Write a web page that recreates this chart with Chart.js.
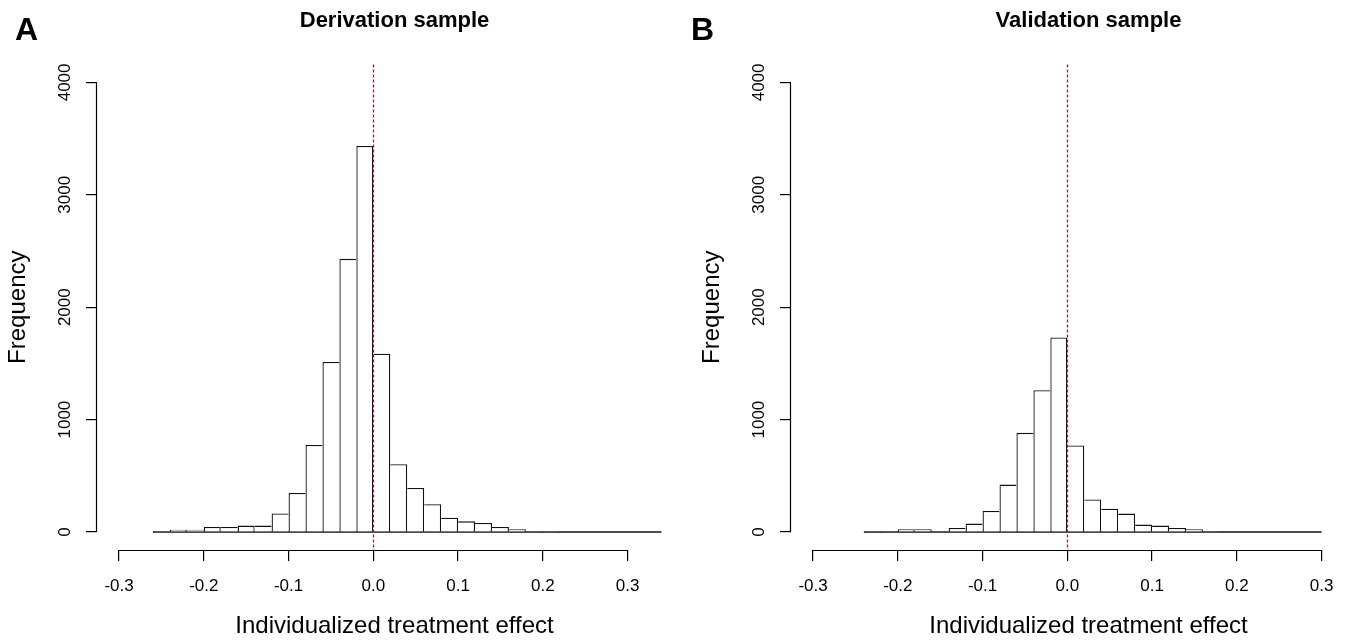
<!DOCTYPE html>
<html>
<head>
<meta charset="utf-8">
<script src="https://cdn.jsdelivr.net/npm/chart.js@4.4.1/dist/chart.umd.min.js"></script>
<style>
  html, body { margin: 0; padding: 0; background: #fff; }
  body { width: 1345px; height: 640px; overflow: hidden; position: relative; }
  canvas { position: absolute; top: 0; }
  #histA { left: 0; }
  #histB { left: 694px; }
  .panel-tag { position: absolute; top: 13px; font: bold 32px/32px "Liberation Sans", Arial, sans-serif; color: #000; }
</style>
</head>
<body>
<canvas id="histA" width="786" height="640"></canvas>
<canvas id="histB" width="786" height="640"></canvas>
<div class="panel-tag" style="left:15px">A</div>
<div class="panel-tag" style="left:691px">B</div>
<script>
// histogram bins (lower edges), width 0.02
const binWidth = 0.02;
const derivationBins = [-0.26, -0.24, -0.22, -0.20, -0.18, -0.16, -0.14, -0.12, -0.10, -0.08,
  -0.06, -0.04, -0.02, 0.00, 0.02, 0.04, 0.06, 0.08, 0.10, 0.12,
  0.14, 0.16, 0.18, 0.20, 0.22, 0.24, 0.26, 0.28, 0.30, 0.32];
const derivationCounts = [8, 20, 20, 45, 45, 57, 57, 165, 348, 775,
  1512, 2430, 3435, 1586, 603, 392, 247, 128, 95, 80,
  45, 24, 9, 8, 0, 0, 0, 0, 0, 0];

const validationBins = [-0.24, -0.22, -0.20, -0.18, -0.16, -0.14, -0.12, -0.10, -0.08, -0.06,
  -0.04, -0.02, 0.00, 0.02, 0.04, 0.06, 0.08, 0.10, 0.12, 0.14,
  0.16, 0.18, 0.20, 0.22, 0.24, 0.26, 0.28];
const validationCounts = [8, 8, 24, 24, 8, 36, 75, 187, 422, 882,
  1262, 1730, 770, 289, 208, 164, 66, 57, 36, 24,
  8, 0, 0, 0, 0, 0, 0];

const xTicks = [-0.3, -0.2, -0.1, 0.0, 0.1, 0.2, 0.3];
const yTicks = [0, 1000, 2000, 3000, 4000];
const xRange = [-0.326, 0.376];
const yRange = [-160, 4160];
const refLineX = 0;

Chart.defaults.font.family = '"Liberation Sans", Arial, sans-serif';
Chart.defaults.color = '#000';

// R-style axes: line only between first and last tick, plus dotted abline
const rAxes = {
  id: 'rAxes',
  afterDatasetsDraw(chart) {
    const { ctx, chartArea, scales: { x } } = chart;
    ctx.save();
    ctx.strokeStyle = '#f00000';
    ctx.lineWidth = 1.3;
    ctx.setLineDash([3, 2]);
    const rx = Math.round(x.getPixelForValue(refLineX)) + 0.5;
    ctx.beginPath();
    ctx.moveTo(rx, chartArea.top);
    ctx.lineTo(rx, chartArea.bottom);
    ctx.stroke();
    ctx.restore();
  },
  afterDraw(chart) {
    const { ctx, chartArea, scales: { x, y } } = chart;
    ctx.save();
    ctx.strokeStyle = '#000';
    ctx.lineWidth = 1.2;
    const by = Math.round(chartArea.bottom) + 0.5;
    ctx.beginPath();
    ctx.moveTo(x.getPixelForValue(xTicks[0]), by);
    ctx.lineTo(x.getPixelForValue(xTicks[xTicks.length - 1]), by);
    const lx = Math.round(chartArea.left) - 0.5;
    ctx.moveTo(lx, y.getPixelForValue(yTicks[0]));
    ctx.lineTo(lx, y.getPixelForValue(yTicks[yTicks.length - 1]));
    ctx.stroke();
    ctx.restore();
  }
};

function histogram(id, title, bins, counts) {
  const bars = bins.map((b, i) => ({ x: b + binWidth / 2, y: counts[i] }));
  const baseline = [
    { x: bins[0], y: 0 },
    { x: bins[bins.length - 1] + binWidth, y: 0 }
  ];
  const tickGrid = { display: true, drawOnChartArea: false, drawTicks: true, tickLength: 11, color: '#000', lineWidth: 1.2, offset: false };

  return new Chart(document.getElementById(id), {
    type: 'bar',
    data: {
      datasets: [
        {
          data: bars,
          backgroundColor: '#fff',
          borderColor: '#111',
          borderSkipped: false,
          // shared edges drawn once, like R's rect()
          borderWidth: (c) => {
            const i = c.dataIndex;
            const cur = counts[i];
            const prev = counts[i - 1];
            const next = counts[i + 1];
            return {
              top: 1.3,
              bottom: 0,
              left: prev !== undefined && prev >= cur ? 0 : 1.3,
              right: next !== undefined && next > cur ? 0 : 1.3
            };
          },
          barPercentage: 1,
          categoryPercentage: 1,
          inflateAmount: 0
        },
        {
          type: 'line',
          data: baseline,
          borderColor: '#111',
          borderWidth: 1.3,
          pointRadius: 0
        }
      ]
    },
    options: {
      responsive: false,
      animation: false,
      layout: { padding: { left: 0, right: 94, top: 0, bottom: 0 } },
      plugins: {
        legend: { display: false },
        tooltip: { enabled: false },
        title: {
          display: true,
          text: title,
          fullSize: false,
          color: '#000',
          font: { size: 22, weight: 'bold' },
          padding: { top: 7.5, bottom: 30.5 }
        }
      },
      scales: {
        x: {
          type: 'linear',
          min: xRange[0],
          max: xRange[1],
          offset: false,
          afterBuildTicks: (s) => { s.ticks = xTicks.map(v => ({ value: v })); },
          afterFit: (s) => { s.height = 90; },
          grid: tickGrid,
          border: { display: false },
          ticks: {
            autoSkip: false,
            minRotation: 0,
            maxRotation: 0,
            padding: 15,
            font: { size: 17 },
            color: '#000',
            callback: (v) => Number(v).toFixed(1)
          },
          title: {
            display: true,
            text: 'Individualized treatment effect',
            color: '#000',
            font: { size: 24, lineHeight: 1.1 },
            padding: { top: 0, bottom: 0 }
          }
        },
        y: {
          type: 'linear',
          min: yRange[0],
          max: yRange[1],
          afterBuildTicks: (s) => { s.ticks = yTicks.map(v => ({ value: v })); },
          afterFit: (s) => { s.width = 97; },
          grid: tickGrid,
          border: { display: false },
          ticks: {
            autoSkip: false,
            minRotation: 90,
            maxRotation: 90,
            crossAlign: 'center',
            padding: 2,
            font: { size: 17 },
            color: '#000',
            callback: (v) => String(v)
          },
          title: {
            display: true,
            text: 'Frequency',
            color: '#000',
            font: { size: 24, lineHeight: 1.1 },
            padding: { top: 5, bottom: 0 }
          }
        }
      }
    },
    plugins: [rAxes]
  });
}

histogram('histA', 'Derivation sample', derivationBins, derivationCounts);
histogram('histB', 'Validation sample', validationBins, validationCounts);
</script>
</body>
</html>
